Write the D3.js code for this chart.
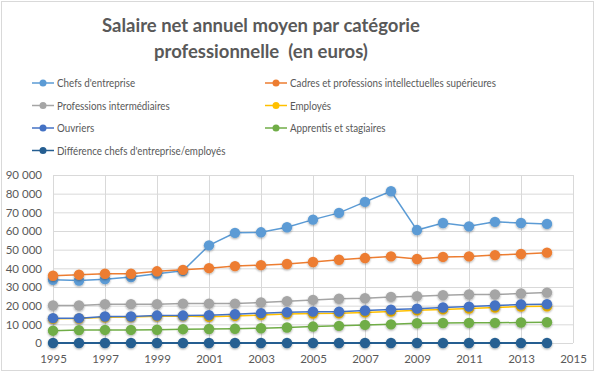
<!DOCTYPE html>
<html>
<head>
<meta charset="utf-8">
<script src="https://cdn.jsdelivr.net/npm/d3@7"></script>
<style>
  body { margin: 0; background: #fff; }
  text { font-family: Lato, "Open Sans", sans-serif; fill: #595959; }
</style>
</head>
<body>
<div id="chart"></div>
<script>
// Données
const years = [1995, 1996, 1997, 1998, 1999, 2000, 2001, 2002, 2003, 2004,
               2005, 2006, 2007, 2008, 2009, 2010, 2011, 2012, 2013, 2014];
const xTicks = [1995, 1997, 1999, 2001, 2003, 2005, 2007, 2009, 2011, 2013, 2015];
const yTicks = [0, 10000, 20000, 30000, 40000, 50000, 60000, 70000, 80000, 90000];

const seriesNames = [
  "Chefs d'entreprise",
  "Cadres et professions intellectuelles supérieures",
  "Professions intermédiaires",
  "Employés",
  "Ouvriers",
  "Apprentis et stagiaires",
  "Différence chefs d'entreprise/employés"
];
const seriesColors = ["#5B9BD5", "#ED7D31", "#A5A5A5", "#FFC000", "#4472C4", "#70AD47", "#255E91"];

const chefs      = [33900, 33500, 34200, 35300, 37100, 38700, 52300, 59000, 59300, 62000,
                    66100, 69700, 75600, 81300, 60500, 64300, 62500, 64900, 64300, 63800];
const cadres     = [36000, 36600, 37100, 37100, 38400, 39200, 40100, 41200, 41700, 42300,
                    43400, 44600, 45500, 46400, 45000, 46100, 46400, 47100, 47700, 48400];
const profInter  = [20100, 20100, 20800, 20800, 20800, 21100, 21100, 21100, 21700, 22400,
                    23100, 23700, 24000, 24700, 25100, 25600, 26000, 26000, 26500, 27000];
const employes   = [13000, 13100, 13800, 13900, 14300, 14400, 14000, 14500, 15000, 15500,
                    15800, 15900, 16400, 16900, 17500, 18000, 18500, 19000, 19500, 19700];
const ouvriers   = [13300, 13300, 14200, 14200, 14700, 14700, 14900, 15400, 16000, 16500,
                    16800, 16800, 17400, 17900, 18400, 19000, 19500, 20100, 20600, 20800];
const apprentis  = [6600, 6900, 7000, 7000, 7100, 7400, 7500, 7600, 7900, 8300,
                    8800, 9200, 9700, 10000, 10600, 10700, 10800, 10800, 11000, 11100];
const difference = [0, 0, 0, 0, 0, 0, 0, 0, 0, 0,
                    0, 0, 0, 0, 0, 0, 0, 0, 0, 0];

const seriesValues = [chefs, cadres, profInter, employes, ouvriers, apprentis, difference];

const W = 600, H = 376;
const margin = {top: 175, right: 27, bottom: 33, left: 53};

const svg = d3.select("#chart").append("svg")
    .attr("width", W).attr("height", H);

const defs = svg.append("defs");
const f = defs.append("filter").attr("id", "shadow")
    .attr("x", "-50%").attr("y", "-50%").attr("width", "200%").attr("height", "200%");
f.append("feDropShadow").attr("dx", 0).attr("dy", 1).attr("stdDeviation", 1)
    .attr("flood-color", "#000").attr("flood-opacity", 0.35);

// cadre extérieur
svg.append("rect")
    .attr("x", 1.5).attr("y", 1.5).attr("width", 592).attr("height", 369)
    .attr("fill", "#fff").attr("stroke", "#d9d9d9");

// titre
const title = svg.append("text")
    .attr("text-anchor", "middle")
    .style("font-size", "18.5px").style("font-weight", "bold");
title.append("tspan").attr("x", 261).attr("y", 32).text("Salaire net annuel moyen par catégorie");
title.append("tspan").attr("x", 261).attr("y", 58).text("professionnelle \u00a0(en euros)");

const x = d3.scaleLinear().domain([1995, 2015]).range([margin.left, W - margin.right]);
const y = d3.scaleLinear().domain([0, 90000]).range([H - margin.bottom, margin.top]);

const fmt = d3.formatLocale({decimal: ",", thousands: " ", grouping: [3], currency: ["", " €"]}).format(",");

// grille
svg.append("g").selectAll("line.h").data(yTicks).enter().append("line")
    .attr("x1", x(1995)).attr("x2", x(2015))
    .attr("y1", d => y(d) + 0.5).attr("y2", d => y(d) + 0.5)
    .attr("stroke", "#d9d9d9");
svg.append("g").selectAll("line.v").data(xTicks).enter().append("line")
    .attr("x1", d => Math.round(x(d)) + 0.5).attr("x2", d => Math.round(x(d)) + 0.5)
    .attr("y1", y(90000)).attr("y2", y(0))
    .attr("stroke", "#d9d9d9");

// axes
const gx = svg.append("g").attr("transform", `translate(0,${y(0)})`)
    .call(d3.axisBottom(x).tickValues(xTicks).tickFormat(d3.format("d")).tickSize(0).tickPadding(12));
const gy = svg.append("g").attr("transform", `translate(${margin.left},0)`)
    .call(d3.axisLeft(y).tickValues(yTicks).tickFormat(fmt).tickSize(0).tickPadding(11));
[gx, gy].forEach(g => {
  g.select(".domain").remove();
  g.selectAll("text").style("font-size", "11.5px").attr("fill", "#595959")
   .style("font-family", "Lato, 'Open Sans', sans-serif");
});

// séries
const line = d3.line().x((d, i) => x(years[i])).y(d => y(d));
seriesValues.forEach((vals, s) => {
  const g = svg.append("g");
  g.append("path").datum(vals)
    .attr("d", line)
    .attr("fill", "none")
    .attr("stroke", seriesColors[s])
    .attr("stroke-width", s === 6 ? 2.2 : 1.5);
  g.selectAll("circle").data(vals).enter().append("circle")
    .attr("cx", (d, i) => x(years[i]))
    .attr("cy", d => y(d))
    .attr("r", 5.2)
    .attr("fill", seriesColors[s])
    .attr("filter", "url(#shadow)");
});

// légende
const legend = svg.append("g");
const items = legend.selectAll("g").data(seriesNames).enter().append("g")
    .attr("transform", (d, i) => `translate(${i % 2 === 0 ? 32 : 265},${83 + Math.floor(i / 2) * 22.5})`);
items.append("line").attr("x1", 0).attr("x2", 22).attr("y1", 0).attr("y2", 0)
    .attr("stroke", (d, i) => seriesColors[i]).attr("stroke-width", 1.5);
items.append("circle").attr("cx", 11).attr("cy", 0).attr("r", 3.5)
    .attr("fill", (d, i) => seriesColors[i]);
const labels = items.append("text").attr("x", 25).attr("y", 0).attr("dy", "0.35em")
    .style("font-size", "12px").text(d => d);

// resserrer le texte de la légende (police étroite dans l'original)
const longest = labels.filter((d, i) => i === 1).node().getComputedTextLength();
const k = 206 / longest;
labels.each(function() {
  const w = this.getComputedTextLength();
  d3.select(this).attr("textLength", w * k).attr("lengthAdjust", "spacingAndGlyphs");
});
</script>
</body>
</html>
